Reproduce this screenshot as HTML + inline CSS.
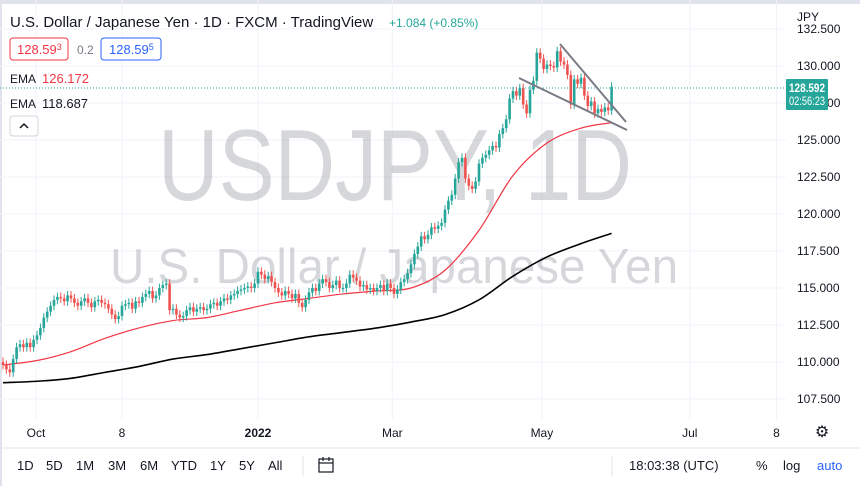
<!DOCTYPE html>
<html><head><meta charset="utf-8">
<style>
body{margin:0;width:860px;height:486px;overflow:hidden;background:#fff;font-family:"Liberation Sans",sans-serif;}
svg text{font-family:"Liberation Sans",sans-serif;}
</style></head><body>
<svg id="c" width="860" height="486">
<rect x="0" y="0" width="860" height="486" fill="#fff"/>
<rect x="0" y="0" width="860" height="4" fill="#e0e3eb"/>
<rect x="0" y="0" width="2" height="486" fill="#e0e3eb"/>
<g id="grid"></g>
<text x="158" y="200" font-size="101" fill="#787b86" fill-opacity="0.3" textLength="474" lengthAdjust="spacingAndGlyphs">USDJPY, 1D</text>
<text x="110" y="283" font-size="49" fill="#787b86" fill-opacity="0.3" textLength="568" lengthAdjust="spacingAndGlyphs">U.S. Dollar / Japanese Yen</text>
<g id="marks"></g>
<line x1="0" y1="88" x2="786" y2="88" stroke="#26a69a" stroke-dasharray="1,2"/>
<line x1="560" y1="44" x2="626" y2="122" stroke="#787b86" stroke-width="2"/>
<line x1="519" y1="78" x2="627" y2="130" stroke="#787b86" stroke-width="2"/>
<g id="yaxis"></g>
<text x="797" y="21" font-size="12" fill="#131722">JPY</text>
<rect x="786" y="79" width="42" height="31" rx="1" fill="#26a69a"/>
<text x="789" y="92" font-size="11.5" fill="#fff" font-weight="bold" textLength="36" lengthAdjust="spacingAndGlyphs">128.592</text>
<text x="789" y="105" font-size="11.5" fill="#fff" textLength="36" lengthAdjust="spacingAndGlyphs">02:56:23</text>
<g id="xaxis"></g>
<text x="822" y="437" font-size="16" fill="#131722" text-anchor="middle">⚙</text>
<line x1="0" y1="448" x2="860" y2="448" stroke="#e0e3eb"/>
<text x="10" y="27" font-size="15" fill="#131722">U.S. Dollar / Japanese Yen · 1D · FXCM · TradingView</text>
<text x="389" y="27" font-size="12" fill="#26a69a">+1.084 (+0.85%)</text>
<rect x="10" y="38" width="58" height="22" rx="3" fill="#fff" stroke="#f23645"/>
<text x="17" y="54" font-size="13" fill="#f23645">128.59<tspan font-size="9" dy="-4">3</tspan></text>
<text x="77" y="54" font-size="12" fill="#787b86">0.2</text>
<rect x="101" y="38" width="60" height="22" rx="3" fill="#fff" stroke="#2962ff"/>
<text x="109" y="54" font-size="13" fill="#2962ff">128.59<tspan font-size="9" dy="-4">5</tspan></text>
<text x="10" y="83" font-size="12" fill="#131722">EMA</text>
<text x="42" y="83" font-size="13" fill="#f23645">126.172</text>
<text x="10" y="108" font-size="12" fill="#131722">EMA</text>
<text x="42" y="108" font-size="13" fill="#131722">118.687</text>
<rect x="10" y="116" width="28" height="20" rx="3" fill="#fff" stroke="#d1d4dc"/>
<path d="M20 128 L24 124 L28 128" fill="none" stroke="#131722" stroke-width="1.5"/>
<g font-size="13" fill="#131722">
<text x="17" y="470">1D</text>
<text x="46" y="470">5D</text>
<text x="76" y="470">1M</text>
<text x="108" y="470">3M</text>
<text x="140" y="470">6M</text>
<text x="171" y="470">YTD</text>
<text x="210" y="470">1Y</text>
<text x="239" y="470">5Y</text>
<text x="268" y="470">All</text>
<text x="629" y="470">18:03:38 (UTC)</text>
<text x="756" y="470">%</text>
<text x="783" y="470">log</text>
<text x="817" y="470" fill="#2962ff">auto</text>
</g>
<line x1="303" y1="456" x2="303" y2="476" stroke="#e0e3eb"/>
<g fill="none" stroke="#131722" stroke-width="1.2">
<rect x="319" y="459" width="14" height="13"/><line x1="319" y1="463" x2="333" y2="463"/><line x1="323" y1="457" x2="323" y2="461"/><line x1="329" y1="457" x2="329" y2="461"/>
</g>
<line x1="612" y1="456" x2="612" y2="476" stroke="#e0e3eb"/>
</svg>
<script>
const closes = [
109.8,109.5,109.3,110.2,111.0,111.2,111.0,111.3,111.0,111.5,
111.8,112.3,113.0,113.4,113.8,114.2,114.4,114.3,114.1,114.5,
114.3,114.0,113.8,114.1,114.3,114.0,113.7,114.1,114.2,114.0,
113.9,113.6,113.2,112.9,113.1,113.8,113.9,114.0,113.6,114.1,
114.0,114.4,114.6,114.8,114.3,114.5,115.0,115.2,115.3,113.5,
113.6,113.2,113.0,113.1,113.5,113.7,113.4,113.6,113.7,113.5,
113.6,113.9,114.0,113.8,114.1,114.3,114.2,114.5,114.6,114.8,
114.9,115.0,115.1,115.0,115.3,116.1,115.9,115.6,115.8,115.4,
115.0,114.7,114.5,114.8,114.6,114.3,114.6,114.0,113.7,114.2,
114.7,115.0,114.8,115.3,115.6,115.4,115.0,115.2,115.5,115.0,
115.0,115.3,115.9,115.7,115.5,115.1,115.2,114.9,115.0,114.8,
115.0,115.2,114.8,115.3,115.0,114.6,114.9,115.4,115.6,116.0,
116.6,117.3,117.8,118.5,118.3,118.6,119.1,119.0,119.2,119.4,
120.3,120.9,121.3,122.4,123.5,123.8,122.4,121.9,121.7,122.2,
123.4,123.8,124.0,124.3,124.6,124.5,125.4,125.8,126.4,127.8,
128.3,128.0,128.5,127.4,126.8,128.4,129.0,130.9,130.5,129.8,
130.1,130.0,129.9,131.0,130.3,130.1,129.4,127.4,129.1,128.8,
129.2,128.0,127.3,127.6,126.8,127.1,126.9,127.2,127.0,128.6];
const firstOpen = 110.0;
const ema50 = [109.8,110.1,110.7,111.6,112.3,112.8,113.0,113.5,114.0,114.3,114.6,114.8,115.0,116.2,118.9,122.6,124.8,125.8,126.17];
const ema200 = [108.6,108.7,108.9,109.3,109.7,110.2,110.5,110.9,111.3,111.7,112.0,112.3,112.7,113.2,114.2,115.8,117.1,118.0,118.69];
const priceTicks = [132.5,130,127.5,125,122.5,120,117.5,115,112.5,110,107.5];
const timeLabels = ["Oct","8","2022","Mar","May","Jul","8"];
const timeLabelIdx = [9.7,35,75,114.5,158.5,202,227.5];

const NS="http://www.w3.org/2000/svg";
const yS = p => 66 + (130 - p) * 14.8;
const xS = i => 3 + i * 3.4;
function mk(tag, attrs, parent){const e=document.createElementNS(NS,tag);for(const k in attrs)e.setAttribute(k,attrs[k]);parent.appendChild(e);return e;}
const grid=document.getElementById('grid'), marks=document.getElementById('marks'), ya=document.getElementById('yaxis'), xa=document.getElementById('xaxis');
priceTicks.forEach(p=>{
  const y=yS(p);
  const l=mk('line',{x1:0,x2:786,y1:y,y2:y,stroke:'#f0f3fa'},grid);
  
  
  const t=mk('text',{x:797,y:y+4,'font-size':12,fill:'#131722'},ya);
  t.textContent=p.toFixed(3);
  
  
});
timeLabels.forEach((s,k)=>{
  const x=xS(timeLabelIdx[k]);
  const l=mk('line',{x1:x,x2:x,y1:0,y2:420,stroke:'#f0f3fa'},grid);
  
  
  const t=mk('text',{x:x,y:437,'font-size':12,fill:'#131722','text-anchor':'middle','font-weight':s==='2022'?'bold':'normal'},xa);
  t.textContent=s;
  
  
});
function emaPath(arr,color,name){
  const pts=arr.map((v,k)=>[xS(k===arr.length-1?closes.length-1:k*10),yS(v)]);
  let d='M'+pts[0][0]+','+pts[0][1];
  for(let k=0;k<pts.length-1;k++){
    const p0=pts[Math.max(0,k-1)],p1=pts[k],p2=pts[k+1],p3=pts[Math.min(pts.length-1,k+2)];
    const c1=[p1[0]+(p2[0]-p0[0])/6,p1[1]+(p2[1]-p0[1])/6], c2=[p2[0]-(p3[0]-p1[0])/6,p2[1]-(p3[1]-p1[1])/6];
    d+=' C'+c1.join(',')+' '+c2.join(',')+' '+p2.join(',');
  }
  const p=mk('path',{d:d,fill:'none',stroke:color,'stroke-width':color==='#000'?1.6:1.2},marks);
  
  
}
emaPath(ema200,'#000','ema200-line');
emaPath(ema50,'#f23645','ema50-line');
closes.forEach((c,i)=>{
  const o=i===0?firstOpen:closes[i-1];
  const up=c>=o, col=up?'#26a69a':'#ef5350';
  const hi=Math.max(o,c)+0.3, lo=Math.min(o,c)-0.3;
  const x=xS(i);
  const w=mk('line',{x1:x,x2:x,y1:yS(hi),y2:yS(lo),stroke:col,'stroke-width':1},marks);
  
  
  const top=yS(Math.max(o,c)), h=Math.max(1,yS(Math.min(o,c))-top);
  const b=mk('rect',{x:x-1.3,y:top,width:2.6,height:h,fill:col},marks);
  
  
});
</script>
</body></html>
